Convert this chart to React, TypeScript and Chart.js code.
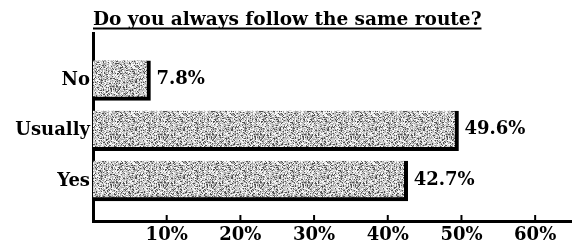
import React, { useEffect, useRef } from "react";
import { Chart, registerables } from "chart.js";

Chart.register(...registerables);

const title = "Do you always follow the same route?";
const categories = ["No", "Usually", "Yes"];
const values = [7.8, 49.6, 42.7];
const xTickValues = [10, 20, 30, 40, 50, 60];

const FONT_FAMILY = "'DejaVu Serif', 'Liberation Serif', serif";
const font = { family: FONT_FAMILY, size: 18, weight: "bold" as const };

function makePattern(): CanvasPattern | string {
  const c = document.createElement("canvas");
  const n = 48;
  c.width = n;
  c.height = n;
  const ctx = c.getContext("2d");
  if (!ctx) return "#b8b8b8";
  const img = ctx.createImageData(n, n);
  for (let y = 0; y < n; y++) {
    for (let x = 0; x < n; x++) {
      let h = (x * 374761393 + y * 668265263) | 0;
      h = Math.imul(h ^ (h >>> 13), 1274126177);
      h = (h ^ (h >>> 16)) & 255;
      let g = 205;
      if (h < 40) g = 80;
      else if (h < 100) g = 160;
      else if (h < 190) g = 205;
      else g = 248;
      const i = (y * n + x) * 4;
      img.data[i] = g;
      img.data[i + 1] = g;
      img.data[i + 2] = g;
      img.data[i + 3] = 255;
    }
  }
  ctx.putImageData(img, 0, 0);
  const p = ctx.createPattern(c, "repeat");
  return p || "#b8b8b8";
}

const decorPlugin = {
  id: "decor",
  afterDatasetsDraw(chart: any) {
    const ctx = chart.ctx as CanvasRenderingContext2D;
    const area = chart.chartArea;
    const xs = chart.scales.x;
    ctx.save();
    ctx.font = `bold 18.5px ${FONT_FAMILY}`;
    ctx.fillStyle = "#000";
    ctx.textAlign = "left";
    ctx.textBaseline = "alphabetic";
    ctx.fillText(title, area.left, 17);
    const w = ctx.measureText(title).width;
    ctx.fillRect(area.left, 19.5, w, 2);
    ctx.strokeStyle = "#000";
    ctx.lineWidth = 2;
    xTickValues.forEach((v) => {
      const px = xs.getPixelForValue(v);
      ctx.beginPath();
      ctx.moveTo(px, area.bottom - 1);
      ctx.lineTo(px, area.bottom - 6);
      ctx.stroke();
    });
    const meta = chart.getDatasetMeta(0);
    ctx.font = `bold 18px ${FONT_FAMILY}`;
    ctx.textBaseline = "middle";
    meta.data.forEach((bar: any, i: number) => {
      ctx.fillText(values[i].toFixed(1) + "%", bar.x + 6, bar.y - 1);
    });
    ctx.restore();
  },
};

export default function App() {
  const ref = useRef<HTMLCanvasElement>(null);
  useEffect(() => {
    if (!ref.current) return;
    const chart = new Chart(ref.current, {
      type: "bar",
      data: {
        datasets: [
          {
            data: values.map((v, i) => ({ x: v, y: i + 1 })),
            backgroundColor: makePattern() as any,
            borderColor: "#000",
            borderWidth: { top: 0, left: 0, right: 4, bottom: 4 },
            borderSkipped: false,
            barThickness: 40,
          },
        ],
      },
      options: {
        indexAxis: "y",
        responsive: false,
        maintainAspectRatio: false,
        animation: false,
        layout: { padding: { top: 25, right: 0, left: 0, bottom: 0 } },
        plugins: { legend: { display: false }, tooltip: { enabled: false }, title: { display: false } },
        scales: {
          y: {
            type: "linear",
            reverse: true,
            offset: false,
            bounds: "data",
            grace: 0,
            min: 0.055,
            max: 3.8,
            afterBuildTicks: (s: any) => {
              s.ticks = categories.map((_, i) => ({ value: i + 1 }));
            },
            afterFit: (s: any) => {
              s.width = 85;
            },
            ticks: {
              autoSkip: false,
              color: "#000",
              font,
              padding: 3,
              callback: (v: any) => categories[Number(v) - 1] ?? "",
            },
            grid: { display: false, drawTicks: false, offset: false },
            border: { display: true, color: "#000", width: 3 },
          },
          x: {
            type: "linear",
            min: 0,
            max: 65,
            afterBuildTicks: (s: any) => {
              s.ticks = xTickValues.map((v) => ({ value: v }));
            },
            afterFit: (s: any) => {
              s.height = 23;
            },
            ticks: {
              autoSkip: false,
              maxRotation: 0,
              color: "#000",
              font,
              padding: 4,
              callback: (v: any) => v + "%",
            },
            grid: { display: false, drawTicks: false },
            border: { display: true, color: "#000", width: 3 },
          },
        },
      },
      plugins: [decorPlugin],
    });
    return () => chart.destroy();
  }, []);
  return (
    <div style={{ width: 564, height: 236 }}>
      <canvas ref={ref} width={564} height={236} style={{ display: "block" }} />
    </div>
  );
}
